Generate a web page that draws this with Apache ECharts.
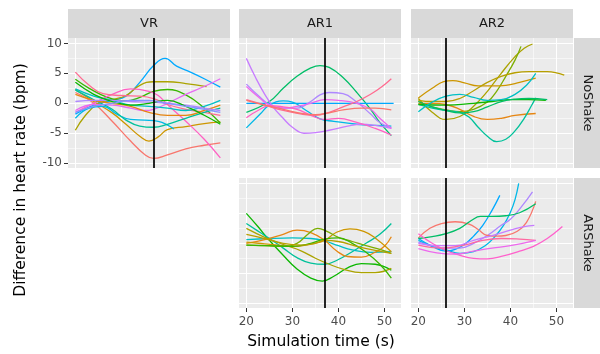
<!DOCTYPE html>
<html><head><meta charset="utf-8">
<script src="https://cdn.jsdelivr.net/npm/echarts@6/dist/echarts.min.js"></script>
<style>html,body{margin:0;padding:0;background:#fff}#c{width:600px;height:354px}</style>
</head><body><div id="c"></div>
<script>
// ---- data ----
const conditions = ['VR', 'AR1', 'AR2'];
const shakeLevels = ['NoShake', 'ARShake'];
const xTicks = [20, 30, 40, 50];
const xMinorTicks = [25, 35, 45];
const yTicks = [-10, -5, 0, 5, 10];
const yMinorTicks = [-7.5, -2.5, 2.5, 7.5];
const xRange = [18.4, 53.6];
const yRange = [-10.8, 10.9];
const cueTimes = [37, 37, 26]; // VR, AR1, AR2

const vrNoShake = [
  ['#00A9FF', [[20,-1.8],[24,-0.3],[28,0.5],[31,1.2],[34,3.5],[37,6.3],[39.5,7.5],[42,6.2],[45,5.2],[48,4.1],[51.5,2.7]]],
  ['#F8766D', [[20,1.8],[24,0],[28,-3],[32,-6.3],[35,-8.5],[37,-9.2],[40,-8.6],[44,-7.6],[48,-7],[51.5,-6.6]]],
  ['#CD9600', [[20,2.3],[24,0.3],[28,-1.6],[31,-3.5],[34,-5.5],[36,-6.3],[38,-5.6],[40,-4.4],[44,-3.9],[48,-3.4],[51.5,-3.1]]],
  ['#ABA300', [[20,-4.5],[22,-2.2],[25,0],[28,0.6],[31,1.3],[34,3],[37,3.6],[40,3.6],[44,3.3],[48.5,2.8]]],
  ['#39B600', [[20,4],[23,2.5],[27,1],[31,0.4],[34,1],[37,2],[40,2.3],[44,1.4],[48,-0.8],[51.5,-3.3]]],
  ['#FF61C3', [[20,-1.5],[24,0],[28,1.5],[32,2.4],[36,2],[38,1.3],[40,-0.2],[44,-3],[48,-6],[51.5,-9.1]]],
  ['#E76BF3', [[20,-1.2],[24,-0.2],[28,-0.3],[32,-0.8],[35,-1.2],[37,-1],[40,0],[44,1.5],[48,2.8],[51.5,4.1]]],
  ['#FF6C91', [[20,5.2],[23,3],[26,1.6],[30,1.3],[34,1.2],[37,0.8],[40,-0.2],[44,-1],[48,-1.5],[51.5,-2]]],
  ['#00BFC4', [[20,2.4],[24,1.2],[28,0.5],[32,-0.3],[36,-0.5],[40,-0.8],[44,-1.2],[48,-0.5],[51.5,0.5]]],
  ['#00B8E7', [[20,-2.5],[23,-0.8],[26,-0.5],[29,-1.8],[32,-2.7],[35,-2.8],[38,-3],[41.4,-4.3]]],
  ['#00C19A', [[20,2.2],[24,0.6],[28,-1],[31,-2.8],[34,-3.8],[37,-4],[40,-3.5],[44,-2.5],[48,-1.5],[51.5,-0.8]]],
  ['#E68613', [[20,1.5],[24,0.5],[28,0],[32,-0.5],[36,-1.5],[40,-2],[44,-2],[48,-1.2],[51.5,-0.3]]],
  ['#AE87FF', [[20,0.3],[24,0.5],[28,0.5],[32,0.3],[36,0.2],[40,0],[44,-0.3],[48,-0.8],[51.5,-1.2]]],
  ['#0CB702', [[20,3.5],[24,1.5],[28,0.3],[32,-0.3],[36,0],[40,0.5],[44,-0.5],[48,-2],[51.5,-3.5]]],
  ['#8494FF', [[20,-1.5],[24,-0.5],[28,0],[32,0.5],[36,0.5],[40,0],[44,-0.5],[48,-1],[51.5,-1.5]]]
];

const ar1NoShake = [
  ['#00BE67', [[20,-1.5],[25,0.3],[28,2.5],[31,4.5],[34,5.9],[36,6.3],[38,6],[41,4.3],[44,1.8],[47,-1],[49,-3.2],[51.5,-5.4]]],
  ['#00A9FF', [[20,0],[36,0],[52,0]]],
  ['#00B8E7', [[20,-4.1],[23,-1.8],[25,-0.3],[28,0.4],[30,0.2],[33,-1.2],[36,-2.6],[39,-3],[44,-3.5],[48,-3.7],[51.5,-3.8]]],
  ['#C77CFF', [[20,7.5],[22,4.3],[24,1.5],[26,-0.8],[28,-2.5],[30,-4],[32.5,-5],[35,-4.9],[38,-4.5],[42,-3.8],[45,-3.5],[48,-3.7],[51.5,-4.2]]],
  ['#AE87FF', [[20,3.2],[23,1],[25,-0.2],[28,-0.8],[31,-0.8],[34,0.3],[36,1.4],[38,1.8],[41,1.6],[44,0.2],[47,-1.8],[49,-3.2],[51.5,-4.1]]],
  ['#ED68ED', [[20,2.8],[23,0.8],[25,-0.3],[28,-0.8],[31,-0.5],[34,0],[37,0.6],[40,0.5],[44,0],[47,-1],[49,-2.5],[51.5,-4.2]]],
  ['#FF61C3', [[20,-2.4],[23,-1],[25,-0.4],[28,-0.6],[31,-1],[34,-2],[37,-2.7],[40,-2.5],[44,-3.2],[48,-4.2],[51.5,-5.3]]],
  ['#FF6C91', [[20,0.6],[24,-0.3],[28,-1.2],[32,-1.8],[35,-2],[38,-1.5],[41,-0.6],[44,0.3],[47,1.5],[49.5,2.8],[51.5,4.1]]],
  ['#F8766D', [[20,0.5],[24,-0.3],[28,-1],[32,-1.7],[35,-1.9],[38,-1.6],[41,-1.1],[45,-0.8],[48,-0.8],[51.5,-1.1]]]
];

const ar2NoShake = [
  ['#ABA300', [[20,0.8],[23,-1.5],[26,-2.7],[29,-2.2],[32,-0.5],[35,2],[38,5],[41,7.8],[43,9.2],[44.8,9.9]]],
  ['#7CAE00', [[20,0.3],[23,-0.6],[26,-1.1],[29,-1.4],[32,-1],[35,0.2],[37,2],[39,4.5],[41,7.2],[42.3,9.5]]],
  ['#CD9600', [[20,0.9],[23,2.5],[25.5,3.6],[27.5,3.8],[30,3.4],[33,2.9],[36,2.9],[39,3],[42,3.5],[45.5,4.2]]],
  ['#B79F00', [[20,0.5],[23,0.3],[26,0.3],[29,0.8],[32,2.1],[35,3.5],[38,4.5],[41,5.1],[44,5.3],[48,5.3],[51.7,4.7]]],
  ['#E68613', [[20,0],[23,0],[26,-0.2],[29,-1],[32,-2.2],[35,-2.7],[38,-2.5],[41,-2],[45.5,-1.7]]],
  ['#00C19A', [[20,-0.2],[23,-0.8],[26,-1.2],[29,-1.5],[31,-2.3],[33,-4],[35,-5.5],[37,-6.4],[39,-6],[41,-4.6],[43,-2.5],[44.5,-0.5],[45.5,0.9]]],
  ['#0CB702', [[20,-0.2],[26,-0.3],[32,0],[36,0.3],[40,0.6],[44,0.6],[47.7,0.5]]],
  ['#00BE67', [[20,0.3],[23,-0.6],[26,-1.2],[29,-1.6],[32,-1.4],[35,-0.6],[38,0.3],[41,0.7],[44,0.8],[48,0.6]]],
  ['#00BFC4', [[20,-1.4],[23,0.2],[26,1.2],[29,1.5],[32,1],[35,0.5],[38,0.6],[41,1.5],[43.5,3],[45.5,5]]]
];

const ar1ARShake = [
  ['#0CB702', [[20,5],[22.5,2.8],[25,0.5],[28,-2],[31,-4.3],[34,-5.8],[36.5,-6.3],[39,-5.5],[42,-4.1],[45,-3.4],[48,-3.5],[51.5,-4.5]]],
  ['#00C19A', [[20,3.3],[23,1.8],[25,0.8],[28,-0.8],[31,-2.4],[34,-3.3],[37,-3.5],[40,-2.7],[43,-1.4],[46,0],[49,1.5],[51.5,3.3]]],
  ['#00BFC4', [[20,0.6],[25,0.8],[30,0.9],[34,0.8],[37,0.4],[40,-0.4],[43,-1.1],[47,-1.5],[51.5,-1.4]]],
  ['#E68613', [[20,0],[24,0.6],[28,1.5],[31,2.2],[34,1.8],[37,0.5],[39.5,-1.2],[42,-2.2],[45,-2.3],[48,-1.5],[50,-0.5],[51.5,1.1]]],
  ['#CD9600', [[20,0.2],[24,-0.1],[28,-0.4],[31,-0.5],[34,-0.1],[37,0.5],[39.5,1.8],[42.5,2.4],[45.5,2],[48,0.9],[51.5,-1.4]]],
  ['#ABA300', [[20,2.5],[24,1],[28,-0.2],[32,-1.3],[35,-2.5],[38,-3.5],[41,-4.3],[45,-4.9],[48,-4.9],[51.5,-4.2]]],
  ['#7CAE00', [[20,-0.3],[24,-0.4],[28,-0.5],[31,0],[33.5,1.6],[35.5,2.5],[37.5,2],[40,1],[43,0.3],[46,-0.4],[49,-1],[51.5,-1.7]]],
  ['#39B600', [[20,-0.3],[25,-0.4],[30,-0.5],[34,0],[37,0.7],[40,0.9],[43,0],[46,-1.5],[49,-3.5],[51.5,-5.8]]],
  ['#B79F00', [[20,1.5],[24,0.8],[28,0],[32,-0.3],[35,0],[37,0.5],[40,0.3],[44,-0.5],[48,-1.2],[51.5,-1.7]]]
];

const ar2ARShake = [
  ['#00A9FF', [[20,0.8],[23,-0.5],[26,-1.3],[28,-1],[30,-0.2],[32,1.2],[34,3],[36,5.5],[37.7,8]]],
  ['#00B8E7', [[20,0.5],[23,-0.5],[26,-1.1],[29,-1.7],[32,-1.4],[34.5,-0.4],[36.5,1],[38.5,3],[40,5.2],[41,7.3],[41.8,10]]],
  ['#AE87FF', [[20,0.2],[23,-0.4],[26,-0.8],[29,-0.8],[32,0],[35,1.3],[38,3],[40,4],[42.5,6.2],[44.8,8.6]]],
  ['#F8766D', [[20,0.9],[22.5,2.5],[25,3.3],[28,3.6],[31,3.2],[33,2.3],[35,1.3],[37,1.2],[39,1.3],[41.5,2],[43.5,3.5],[45.5,7]]],
  ['#00BE67', [[20,0.8],[23,1.1],[26,1.6],[29,2.5],[31.5,3.8],[33.5,4.5],[36,4.5],[39,4.6],[42,5.1],[45.5,6.6]]],
  ['#C77CFF', [[20,0],[24,-0.4],[28,-0.4],[32,0.5],[36,1.3],[40,2.2],[43,2.8],[45.2,3]]],
  ['#FF61CC', [[20,1.6],[23,0],[26,-1.2],[29,-2],[32,-2.5],[35,-2.6],[38,-2.2],[42,-1.3],[45,-0.5],[48,0.8],[51.3,2.8]]],
  ['#FF68A1', [[20,-0.3],[25,-0.8],[30,-0.3],[34,0.5],[38,0.8],[42,0.7],[45.5,0.5]]],
  ['#ED68ED', [[20,-0.9],[24,-1.6],[28,-1.8],[32,-1.3],[36,-0.8],[40,-0.4],[45.5,0.5]]]
];

// ---- layout ----
const panelLefts = [68, 239, 411];
const panelTops = [38, 178];
const panelW = 162, panelH = 130;
const panels = [
  { col: 0, row: 0, lines: vrNoShake, xLabels: false, yLabels: true },
  { col: 1, row: 0, lines: ar1NoShake, xLabels: false, yLabels: false },
  { col: 2, row: 0, lines: ar2NoShake, xLabels: false, yLabels: false },
  { col: 1, row: 1, lines: ar1ARShake, xLabels: true, yLabels: false },
  { col: 2, row: 1, lines: ar2ARShake, xLabels: true, yLabels: false }
];
const FONT = '"DejaVu Sans", sans-serif';

const grids = [], xAxes = [], yAxes = [], series = [];
panels.forEach((p, gi) => {
  grids.push({ left: panelLefts[p.col], top: panelTops[p.row], width: panelW, height: panelH,
    show: true, backgroundColor: '#EBEBEB', borderWidth: 0, containLabel: false, outerBoundsMode: 'none' });
  xAxes.push({ type: 'value', gridIndex: gi, min: xRange[0], max: xRange[1], position: 'bottom',
    axisLine: { show: false, onZero: false },
    axisTick: { show: p.xLabels, customValues: xTicks, length: 4, lineStyle: { color: '#333333', width: 1 } },
    axisLabel: { show: p.xLabels, customValues: xTicks, color: '#4D4D4D', fontSize: 12, fontFamily: FONT, margin: 8 },
    splitLine: { show: true, lineStyle: { color: '#FFFFFF', width: 1.1 } } });
  xAxes.push({ type: 'value', gridIndex: gi, min: xRange[0], max: xRange[1], position: 'top',
    axisLine: { show: false, onZero: false }, axisTick: { show: false, customValues: xMinorTicks },
    axisLabel: { show: false, customValues: xMinorTicks },
    splitLine: { show: true, lineStyle: { color: '#FFFFFF', width: 0.55 } } });
  yAxes.push({ type: 'value', gridIndex: gi, min: yRange[0], max: yRange[1], position: 'left',
    axisLine: { show: false, onZero: false },
    axisTick: { show: p.yLabels, customValues: yTicks, length: 4, lineStyle: { color: '#333333', width: 1 } },
    axisLabel: { show: p.yLabels, customValues: yTicks, color: '#4D4D4D', fontSize: 12, fontFamily: FONT, margin: 6 },
    splitLine: { show: true, lineStyle: { color: '#FFFFFF', width: 1.1 } } });
  yAxes.push({ type: 'value', gridIndex: gi, min: yRange[0], max: yRange[1], position: 'right',
    axisLine: { show: false, onZero: false }, axisTick: { show: false, customValues: yMinorTicks },
    axisLabel: { show: false, customValues: yMinorTicks },
    splitLine: { show: true, lineStyle: { color: '#FFFFFF', width: 0.55 } } });
  p.lines.forEach(([color, pts]) => {
    series.push({ type: 'line', xAxisIndex: 2 * gi, yAxisIndex: 2 * gi, data: pts,
      smooth: 0.45, showSymbol: false, symbol: 'none', silent: true,
      lineStyle: { color: color, width: 1.3 }, itemStyle: { color: color } });
  });
  series.push({ type: 'line', xAxisIndex: 2 * gi, yAxisIndex: 2 * gi, data: [], z: 10, silent: true,
    markLine: { silent: true, symbol: 'none', animation: false, label: { show: false },
      lineStyle: { color: '#000000', width: 1.7, type: 'solid' },
      data: [{ xAxis: cueTimes[p.col] }] } });
});

const graphics = [];
conditions.forEach((name, ci) => {
  graphics.push({ type: 'rect', shape: { x: panelLefts[ci], y: 9, width: panelW, height: 29 }, style: { fill: '#D9D9D9' }, silent: true });
  graphics.push({ type: 'text', x: panelLefts[ci] + panelW / 2, y: 23.5,
    style: { text: name, fill: '#1A1A1A', fontSize: 13, fontFamily: FONT, textAlign: 'center', textVerticalAlign: 'middle' }, silent: true });
});
shakeLevels.forEach((name, ri) => {
  graphics.push({ type: 'rect', shape: { x: 574, y: panelTops[ri], width: 26, height: panelH }, style: { fill: '#D9D9D9' }, silent: true });
  graphics.push({ type: 'text', x: 587, y: panelTops[ri] + panelH / 2, rotation: -Math.PI / 2,
    style: { text: name, fill: '#1A1A1A', fontSize: 13, fontFamily: FONT, textAlign: 'center', textVerticalAlign: 'middle' }, silent: true });
});
graphics.push({ type: 'text', x: 321, y: 342,
  style: { text: 'Simulation time (s)', fill: '#000000', fontSize: 15.5, fontFamily: FONT, textAlign: 'center', textVerticalAlign: 'middle' }, silent: true });
graphics.push({ type: 'text', x: 21, y: 180, rotation: Math.PI / 2,
  style: { text: 'Difference in heart rate (bpm)', fill: '#000000', fontSize: 15.5, fontFamily: FONT, textAlign: 'center', textVerticalAlign: 'middle' }, silent: true });

const chart = echarts.init(document.getElementById('c'), null, { renderer: 'canvas' });
chart.setOption({
  animation: false,
  backgroundColor: '#FFFFFF',
  grid: grids, xAxis: xAxes, yAxis: yAxes, series: series,
  graphic: graphics
});
</script></body></html>
